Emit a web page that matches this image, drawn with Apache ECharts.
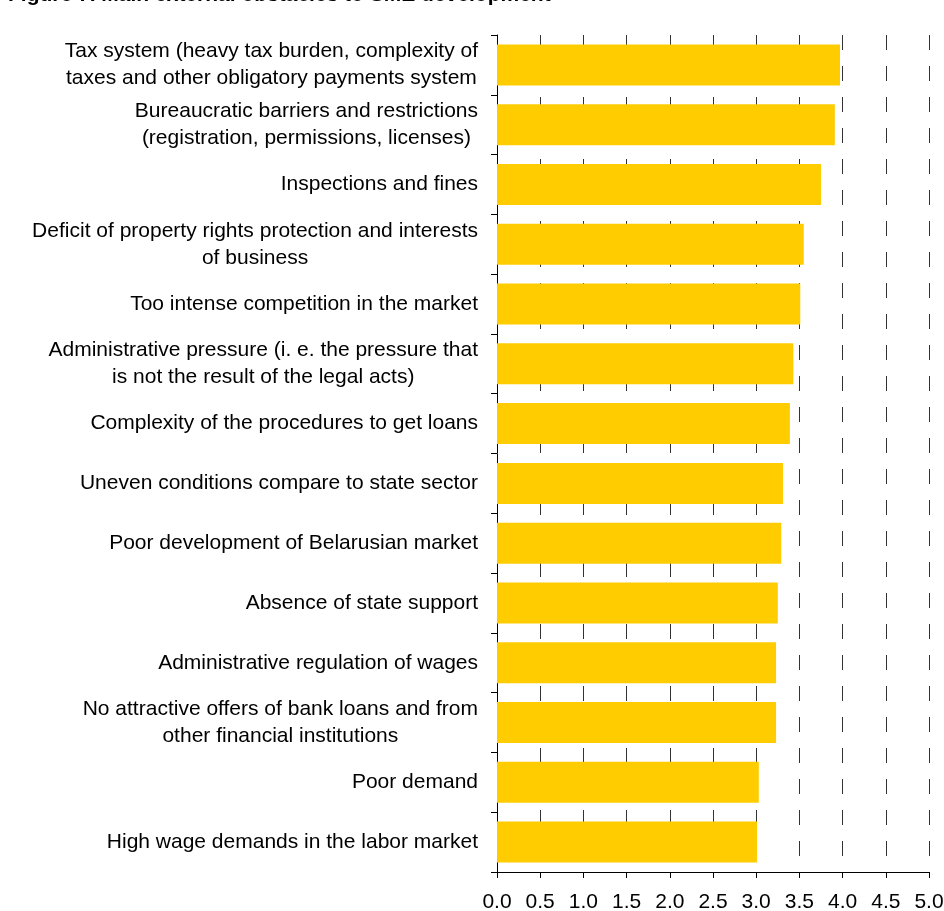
<!DOCTYPE html>
<html>
<head>
<meta charset="utf-8">
<script src="https://cdn.jsdelivr.net/npm/echarts@6/dist/echarts.min.js"></script>
<style>
html,body{margin:0;padding:0;background:#fff;}
#chart{width:944px;height:911px;}
</style>
</head>
<body>
<div id="chart"></div>
<script>
var titleText = 'Figure 7. Main external obstacles to SME development';

var categories = [
  'Tax system (heavy tax burden, complexity of\ntaxes and other obligatory payments system',
  'Bureaucratic barriers and restrictions\n(registration, permissions, licenses)',
  'Inspections and fines',
  'Deficit of property rights protection and interests\nof business',
  'Too intense competition in the market',
  'Administrative pressure (i. e. the pressure that\nis not the result of the legal acts)',
  'Complexity of the procedures to get loans',
  'Uneven conditions compare to state sector',
  'Poor development of Belarusian market',
  'Absence of state support',
  'Administrative regulation of wages',
  'No attractive offers of bank loans and from\nother financial institutions',
  'Poor demand',
  'High wage demands in the labor market'
];

var values = [3.97, 3.91, 3.75, 3.55, 3.51, 3.43, 3.39, 3.31, 3.29, 3.25, 3.23, 3.23, 3.03, 3.01];

var xTickLabels = ['0.0','0.5','1.0','1.5','2.0','2.5','3.0','3.5','4.0','4.5','5.0'];

var chart = echarts.init(document.getElementById('chart'), null, {renderer: 'canvas'});

var fontFam = 'Arial, "Liberation Sans", sans-serif';

chart.setOption({
  animation: false,
  backgroundColor: '#ffffff',
  title: {
    text: titleText,
    left: 3,
    top: -20,
    textStyle: {
      fontFamily: fontFam,
      fontWeight: 'bold',
      fontSize: 21,
      color: '#000'
    }
  },
  grid: {
    left: 497,
    right: 15,
    top: 35,
    bottom: 39,
    containLabel: false,
    outerBoundsMode: 'none'
  },
  xAxis: {
    type: 'value',
    min: 0,
    max: 5,
    interval: 0.5,
    axisLine: {show: true, lineStyle: {color: '#000', width: 1}},
    axisTick: {show: true, length: 6, lineStyle: {color: '#000'}},
    axisLabel: {
      margin: 20,
      color: '#000',
      fontFamily: fontFam,
      fontSize: 21,
      formatter: function (v) {
        var i = Math.round(v / 0.5);
        return xTickLabels[i] !== undefined ? xTickLabels[i] : '';
      }
    },
    splitLine: {
      show: true,
      lineStyle: {color: '#333', width: 1, type: [15, 16]}
    }
  },
  yAxis: {
    type: 'category',
    inverse: true,
    data: categories,
    axisLine: {show: true, lineStyle: {color: '#000', width: 1}},
    axisTick: {show: true, length: 6, lineStyle: {color: '#000'}},
    axisLabel: {
      margin: 19,
      color: '#000',
      fontFamily: fontFam,
      fontSize: 21,
      lineHeight: 27,
      align: 'right',
      formatter: function (v) {
        return v.split('\n').map(function (s) { return '{c|' + s + '}'; }).join('\n');
      },
      rich: {
        c: {
          align: 'center',
          fontFamily: fontFam,
          fontSize: 21,
          lineHeight: 27,
          color: '#000'
        }
      }
    },
    splitLine: {show: false}
  },
  series: [{
    type: 'bar',
    data: values,
    barWidth: 41,
    itemStyle: {color: '#FFCC00'},
    z: 3
  }]
});
</script>
</body>
</html>
